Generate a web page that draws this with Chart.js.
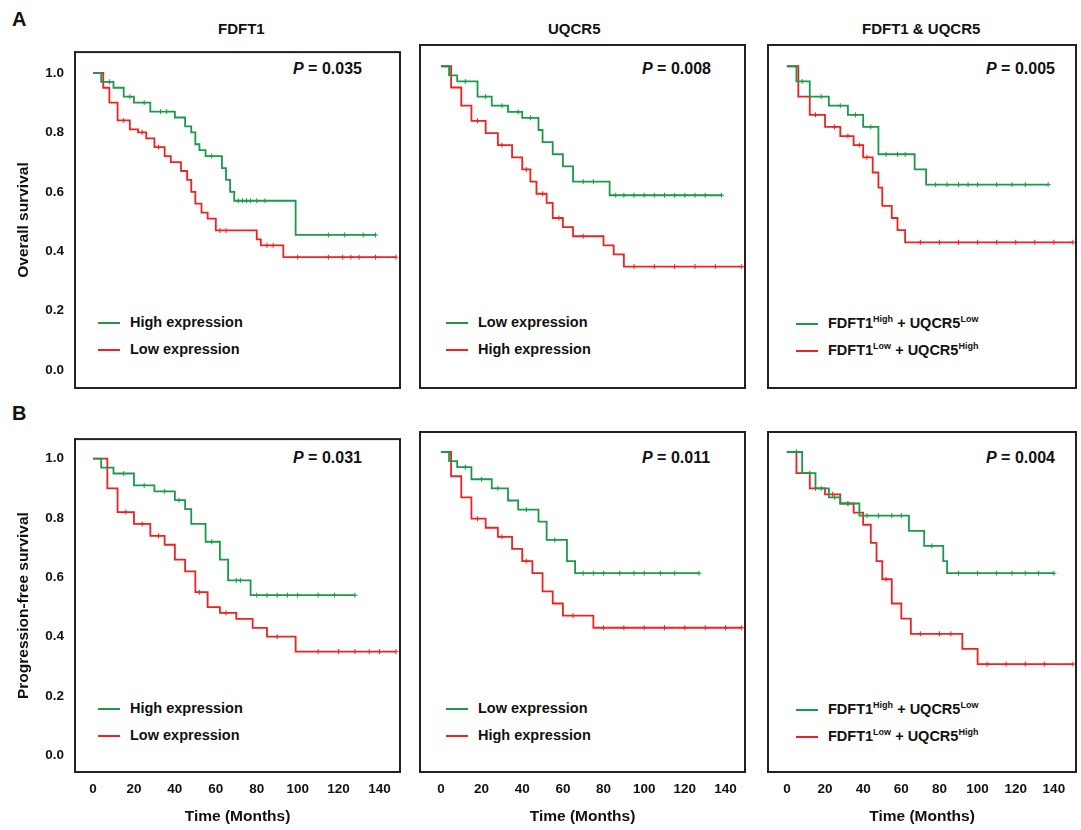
<!DOCTYPE html>
<html><head><meta charset="utf-8">
<script src="https://cdn.jsdelivr.net/npm/chart.js@4"></script>
<style>
body{margin:0;width:1081px;height:830px;background:#fff;font-family:Arial,"Liberation Sans",sans-serif;position:relative;overflow:hidden}
canvas{position:absolute}
.t{position:absolute;font-weight:bold;color:#111;white-space:nowrap}
.lg{position:absolute;font-size:14.5px;font-weight:bold;color:#111;white-space:nowrap}
.lg span{display:inline-block;width:22px;height:2px;vertical-align:middle;margin-right:10px}
sup{font-size:9px}
</style></head><body>
<div class="t" style="left:12px;top:8px;font-size:20px">A</div>
<div class="t" style="left:12px;top:402px;font-size:20px">B</div>
<div class="t" style="left:218px;top:20px;font-size:15px">FDFT1</div>
<div class="t" style="left:548px;top:20px;font-size:15px">UQCR5</div>
<div class="t" style="left:862px;top:20px;font-size:15px">FDFT1 &amp; UQCR5</div>
<div class="t" style="left:293px;top:60px;font-size:16px"><i>P</i> = 0.035</div>
<div class="t" style="left:642px;top:60px;font-size:16px"><i>P</i> = 0.008</div>
<div class="t" style="left:986px;top:60px;font-size:16px"><i>P</i> = 0.005</div>
<div class="t" style="left:293px;top:449px;font-size:16px"><i>P</i> = 0.031</div>
<div class="t" style="left:642px;top:449px;font-size:16px"><i>P</i> = 0.011</div>
<div class="t" style="left:986px;top:449px;font-size:16px"><i>P</i> = 0.004</div>
<div class="lg" style="left:98px;top:314px"><span style="background:#1a9a4a"></span>High expression</div>
<div class="lg" style="left:98px;top:341px"><span style="background:#ee2222"></span>Low expression</div>
<div class="lg" style="left:446px;top:314px"><span style="background:#1a9a4a"></span>Low expression</div>
<div class="lg" style="left:446px;top:341px"><span style="background:#ee2222"></span>High expression</div>
<div class="lg" style="left:796px;top:314px"><span style="background:#1a9a4a"></span>FDFT1<sup>High</sup> + UQCR5<sup>Low</sup></div>
<div class="lg" style="left:796px;top:341px"><span style="background:#ee2222"></span>FDFT1<sup>Low</sup> + UQCR5<sup>High</sup></div>
<div class="lg" style="left:98px;top:700px"><span style="background:#1a9a4a"></span>High expression</div>
<div class="lg" style="left:98px;top:727px"><span style="background:#ee2222"></span>Low expression</div>
<div class="lg" style="left:446px;top:700px"><span style="background:#1a9a4a"></span>Low expression</div>
<div class="lg" style="left:446px;top:727px"><span style="background:#ee2222"></span>High expression</div>
<div class="lg" style="left:796px;top:700px"><span style="background:#1a9a4a"></span>FDFT1<sup>High</sup> + UQCR5<sup>Low</sup></div>
<div class="lg" style="left:796px;top:727px"><span style="background:#ee2222"></span>FDFT1<sup>Low</sup> + UQCR5<sup>High</sup></div>

<canvas id="a1"></canvas><canvas id="a2"></canvas><canvas id="a3"></canvas>
<canvas id="b1"></canvas><canvas id="b2"></canvas><canvas id="b3"></canvas>
<script>
// step curves: [months, survival]; last point = end of follow-up
const a1Green = [[0,1],[4,0.97],[10,0.95],[15,0.92],[20,0.9],[28,0.87],[40,0.85],[45,0.82],[48,0.8],[50,0.76],[52,0.74],[55,0.72],[63,0.68],[65,0.64],[67,0.6],[69,0.57],[99,0.455],[138,0.455]];
const a1GreenCens = [8,18,25,33,36,58,71,73,75,77,80,84,115,123,132,138];
const a1Red = [[0,1],[5,0.95],[8,0.9],[12,0.84],[18,0.81],[22,0.8],[26,0.78],[30,0.75],[35,0.72],[38,0.7],[43,0.67],[46,0.64],[48,0.6],[50,0.56],[53,0.53],[56,0.51],[60,0.47],[80,0.44],[82,0.42],[93,0.38],[148,0.38]];
const a1RedCens = [15,24,32,62,65,85,88,100,115,122,126,130,138,148];

const a2Green = [[0,1],[4,0.97],[8,0.95],[18,0.9],[25,0.87],[33,0.85],[40,0.83],[48,0.79],[50,0.75],[55,0.71],[60,0.67],[65,0.62],[83,0.575],[138,0.575]];
const a2GreenCens = [12,22,30,38,44,70,75,86,90,95,100,105,110,115,120,125,130,138];
const a2Red = [[0,1],[5,0.93],[10,0.87],[15,0.82],[22,0.78],[28,0.74],[35,0.7],[40,0.66],[44,0.62],[47,0.58],[52,0.55],[55,0.5],[60,0.47],[65,0.44],[80,0.41],[85,0.38],[90,0.34],[148,0.34]];
const a2RedCens = [18,30,42,50,58,70,95,105,115,125,135,148];

const a3Green = [[0,1],[5,0.95],[12,0.9],[22,0.87],[32,0.84],[40,0.8],[48,0.71],[67,0.66],[73,0.61],[137,0.61]];
const a3GreenCens = [8,18,28,36,44,52,58,62,78,84,90,95,100,110,118,125,137];
const a3Red = [[0,1],[6,0.9],[12,0.84],[20,0.8],[28,0.77],[35,0.74],[40,0.7],[45,0.65],[48,0.6],[50,0.54],[55,0.5],[58,0.46],[62,0.42],[150,0.42]];
const a3RedCens = [15,25,32,38,42,70,80,90,100,110,120,130,140,150];

const b1Green = [[0,1],[4,0.97],[10,0.95],[20,0.91],[30,0.89],[40,0.86],[45,0.83],[48,0.78],[55,0.72],[62,0.66],[66,0.59],[77,0.54],[128,0.54]];
const b1GreenCens = [15,25,35,42,58,70,72,80,85,90,95,100,110,118,128];
const b1Red = [[0,1],[7,0.9],[12,0.82],[20,0.78],[28,0.74],[35,0.71],[40,0.66],[45,0.62],[50,0.55],[56,0.5],[62,0.48],[70,0.46],[78,0.43],[85,0.4],[99,0.35],[148,0.35]];
const b1RedCens = [16,24,32,52,65,90,110,120,128,135,140,148];

const b2Green = [[0,1],[4,0.97],[8,0.95],[15,0.91],[25,0.88],[33,0.84],[38,0.81],[48,0.77],[52,0.71],[62,0.64],[66,0.6],[127,0.6]];
const b2GreenCens = [12,20,28,42,56,70,75,80,88,95,100,108,115,127];
const b2Red = [[0,1],[5,0.92],[10,0.85],[15,0.78],[22,0.75],[28,0.72],[35,0.68],[40,0.64],[45,0.6],[50,0.54],[55,0.5],[60,0.46],[75,0.42],[148,0.42]];
const b2RedCens = [18,30,42,65,80,90,100,110,120,130,140,148];

const b3Green = [[0,1],[8,0.93],[15,0.88],[22,0.85],[28,0.83],[38,0.79],[64,0.74],[72,0.69],[82,0.64],[84,0.6],[140,0.6]];
const b3GreenCens = [5,12,18,25,32,42,48,55,60,76,90,100,110,118,125,132,140];
const b3Red = [[0,1],[5,0.93],[12,0.88],[20,0.86],[28,0.83],[35,0.8],[40,0.76],[44,0.7],[47,0.64],[50,0.58],[55,0.5],[60,0.45],[65,0.4],[92,0.35],[100,0.3],[150,0.3]];
const b3RedCens = [15,24,32,52,70,80,86,105,115,125,135,150];

const xTicks = [0,20,40,60,80,100,120,140];
const yTicks = [0,0.2,0.4,0.6,0.8,1.0];
const GREEN = '#1a9a4a', RED = '#ee2222';

function survAt(curve, t) {
  let s = curve[0][1];
  for (const p of curve) { if (p[0] <= t) s = p[1]; }
  return s;
}

const boxPlugin = {
  id: 'box',
  afterDraw(c) {
    const a = c.chartArea, g = c.ctx;
    g.save(); g.strokeStyle = '#222'; g.lineWidth = 2;
    g.strokeRect(a.left, a.top, a.right - a.left, a.bottom - a.top);
    g.restore();
  }
};

function panel(id, pos, green, greenCens, red, redCens, opt) {
  const cv = document.getElementById(id);
  cv.style.left = pos.left + 'px'; cv.style.top = pos.top + 'px';
  cv.style.width = pos.w + 'px'; cv.style.height = pos.h + 'px';
  const ds = [];
  [[green, greenCens, GREEN], [red, redCens, RED]].forEach(([cur, cens, col]) => {
    ds.push({ type: 'line', data: cur.map(p => ({x: p[0], y: p[1]})), stepped: 'before',
      borderColor: col, borderWidth: 1.8, pointRadius: 0, fill: false });
    ds.push({ type: 'scatter', data: cens.map(t => ({x: t, y: survAt(cur, t)})),
      pointStyle: 'cross', pointRadius: 2.5, borderColor: col, borderWidth: 1, showLine: false });
  });
  new Chart(cv, {
    type: 'line',
    data: { datasets: ds },
    plugins: [boxPlugin],
    options: {
      responsive: false, animation: false,
      layout: { padding: { top: 5, right: pos.pr, left: 0, bottom: 0 } },
      plugins: { legend: { display: false }, tooltip: { enabled: false } },
      scales: {
        x: { type: 'linear', min: opt.xmin, max: opt.xmax,
          afterBuildTicks: s => { s.ticks = xTicks.map(v => ({value: v})); },
          afterFit: s => { s.height = opt.xh; },
          grid: { display: false, drawOnChartArea: false, drawTicks: true, tickLength: 7, tickColor: '#222', tickWidth: 1.5 },
          border: { color: '#222', width: 2 },
          ticks: { display: opt.xlab, color: '#111', font: { size: 13.5, weight: 'bold', family: 'Arial' }, maxRotation: 0, padding: 2 },
          title: { display: opt.xlab, text: 'Time (Months)', color: '#111', font: { size: 15.5, weight: 'bold', family: 'Arial' }, padding: { top: 0 } } },
        y: { min: opt.ymin, max: opt.ymax,
          afterBuildTicks: s => { s.ticks = yTicks.map(v => ({value: v})); },
          afterFit: s => { s.width = opt.yw; },
          grid: { display: false, drawOnChartArea: false, drawTicks: true, tickLength: 7, tickColor: '#222', tickWidth: 1.5 },
          border: { color: '#222', width: 2 },
          ticks: { display: opt.ylab, color: '#111', callback: v => v.toFixed(1), font: { size: 13.5, weight: 'bold', family: 'Arial' }, padding: 4 },
          title: { display: !!opt.ytitle, text: opt.ytitle || '', color: '#111', font: { size: 15.5, weight: 'bold', family: 'Arial' }, padding: { top: 14, bottom: 0 } } }
      }
    }
  });
}

const cols = [
  { left: 0, w: 405, pr: 5, yw: 75, xmin: -8.8, xmax: 150 },
  { left: 405, w: 345, pr: 5, yw: 15, xmin: -10.3, xmax: 149.6 },
  { left: 753, w: 328, pr: 3, yw: 15, xmin: -9.9, xmax: 151.6 }
];
const rowA = { top: 40, h: 365, xh: 17, ymin: -0.06, ymax: 1.07, xlab: false };
const rowB = { top: 427, h: 403, xh: 58, ymin: -0.056, ymax: 1.066, xlab: true };

function mk(id, c, r, g, gc, rd, rc, ytitle) {
  panel(id, { left: c.left, top: r.top, w: c.w, h: r.h, pr: c.pr }, g, gc, rd, rc,
    { xmin: c.xmin, xmax: c.xmax, ymin: r.ymin, ymax: r.ymax, xh: r.xh, yw: c.yw, xlab: r.xlab, ylab: !!ytitle, ytitle: ytitle });
}
mk('a1', cols[0], rowA, a1Green, a1GreenCens, a1Red, a1RedCens, 'Overall survival');
mk('a2', cols[1], rowA, a2Green, a2GreenCens, a2Red, a2RedCens);
mk('a3', cols[2], rowA, a3Green, a3GreenCens, a3Red, a3RedCens);
mk('b1', cols[0], rowB, b1Green, b1GreenCens, b1Red, b1RedCens, 'Progression-free survival');
mk('b2', cols[1], rowB, b2Green, b2GreenCens, b2Red, b2RedCens);
mk('b3', cols[2], rowB, b3Green, b3GreenCens, b3Red, b3RedCens);
</script>
</body></html>
